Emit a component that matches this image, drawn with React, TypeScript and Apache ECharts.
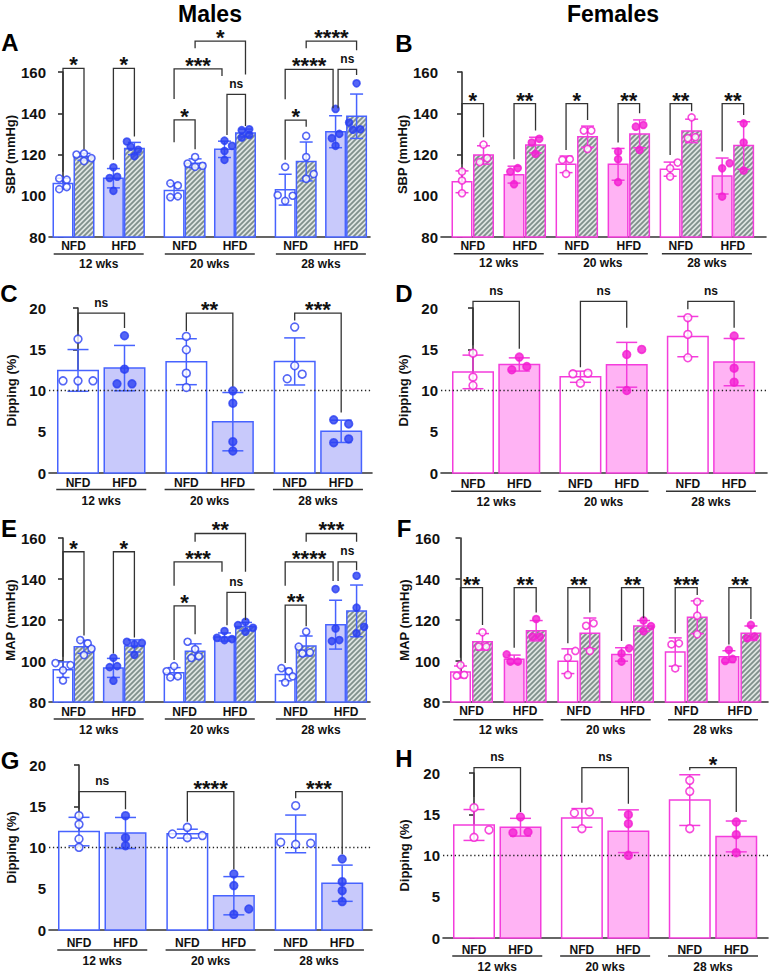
import React, { useEffect, useRef } from "react";
import * as echarts from "echarts";

const FONT = "'Liberation Sans', Arial, Helvetica, sans-serif";

// ---------------- data ----------------
const columnTitles = ["Males", "Females"];
const panelLetters = ["A", "B", "C", "D", "E", "F", "G", "H"];
const timepoints = ["12 wks", "20 wks", "28 wks"];
const diets = ["NFD", "HFD"];
const yNames = ["SBP (mmHg)", "SBP (mmHg)", "Dipping (%)", "Dipping (%)", "MAP (mmHg)", "MAP (mmHg)", "Dipping (%)", "Dipping (%)"];

// 4-bar panels: per timepoint NFD, NFD (hatched), HFD, HFD (hatched)
const sbpMales: number[][] = [
  [107.8, 108.4, 103.2, 104.2], [120.5, 120.0, 118.2, 116.8], [113.8, 109.2, 108.6, 102.4], [126.3, 123.8, 122.3, 119.2],
  [105.0, 106.0, 99.7, 99.3], [118.8, 115.6, 114.5, 114.0], [124.2, 126.7, 121.7, 117.4], [132.2, 131.8, 129.5, 128.2],
  [114.0, 100.3, 100.0, 97.5], [129.0, 118.8, 110.5, 108.2], [142.1, 130.0, 127.9, 124.2], [154.5, 135.5, 132.2, 132.0],
];
const sbpFemales: number[][] = [
  [111.7, 107.4, 101.2], [124.8, 116.3, 118.2], [113.4, 111.7, 105.6], [127.6, 125.8, 120.3],
  [117.7, 117.4, 110.6], [131.6, 131.6, 122.7], [121.4, 117.7, 106.6], [134.3, 133.5, 122.2],
  [116.1, 113.3, 109.3], [138.0, 127.9, 128.4], [115.8, 113.3, 99.6], [135.1, 125.8, 112.2],
];
const mapMales: number[][] = [
  [99.0, 98.0, 95.5, 90.5], [110.2, 108.6, 106.0, 102.9], [101.6, 97.5, 97.0, 90.4], [109.4, 108.8, 108.2, 103.0],
  [97.5, 95.0, 92.5, 92.0], [109.4, 105.8, 102.3, 101.5], [110.2, 110.7, 114.6, 111.3], [119.1, 117.5, 116.2, 114.3],
  [96.5, 95.0, 92.5, 89.5], [114.3, 107.0, 104.2, 103.7], [135.1, 115.9, 109.7, 110.2], [141.6, 126.0, 116.7, 113.5],
];
const mapFemales: number[][] = [
  [98.0, 93.2, 92.8], [114.0, 107.0, 107.0], [103.2, 99.7, 99.7], [120.5, 111.9, 111.9],
  [104.9, 101.6, 93.2], [118.4, 117.2, 104.9], [106.2, 103.7, 99.7], [119.8, 117.0, 114.5],
  [108.6, 108.1, 96.4], [128.9, 122.1, 113.0], [105.4, 100.0, 101.0], [117.6, 111.1, 111.9],
];
// 2-bar panels: per timepoint NFD, HFD
const dipMalesSBP: number[][] = [
  [16.23, 11.17, 11.17, 11.17], [16.64, 12.59, 10.81, 10.81],
  [16.56, 14.94, 12.10, 10.36], [9.96, 8.46, 3.80, 2.67],
  [17.69, 13.00, 11.42, 11.98], [5.95, 6.44, 3.68, 4.13],
];
const dipFemalesSBP: number[][] = [
  [14.53, 11.62, 10.61], [14.05, 12.51, 12.91],
  [12.10, 12.02, 10.89], [14.98, 14.37, 10.00],
  [18.83, 16.80, 13.97], [16.60, 12.71, 11.01],
];
const dipMalesMAP: number[][] = [
  [13.86, 12.81, 11.03, 10.02], [13.86, 11.19, 10.22],
  [11.19, 11.64, 12.44, 11.44], [6.79, 5.38, 2.55, 1.90],
  [15.07, 10.38, 10.63, 10.51], [8.61, 5.86, 4.77, 3.44],
];
const dipFemalesMAP: number[][] = [
  [15.8, 13.1, 12.2], [14.67, 12.77, 12.85],
  [15.27, 15.15, 13.25], [14.95, 13.86, 10.02],
  [19.11, 17.78, 13.25], [14.06, 12.53, 10.34],
];

// brackets: [label, leftBar, rightBar, lineValue, leftLegEnd, rightLegEnd, leftNudge, rightNudge]
type Bracket = [string, number, number, number, number, number, number, number];
const bracketsA: Bracket[] = [
  ["*", 0, 1, 161.8, 111.6, 122.6, 0, 0], ["*", 2, 3, 161.8, 117.4, 128.7, 0, 0],
  ["*", 4, 5, 136.8, 126.0, 122.5, 0, 0], ["ns", 6, 7, 149.2, 129.5, 133.8, 1, 0],
  ["***", 4, 6, 161.5, 146.9, 158.1, 0, -1], ["*", 5, 7, 175.0, 171.5, 158.8, 0, 0],
  ["*", 8, 9, 136.7, 117.4, 133.5, 0, 0], ["****", 8, 10, 161.3, 146.8, 142.4, 0, -1],
  ["ns", 10, 11, 161.3, 142.4, 158.5, 1, 0], ["****", 9, 11, 175.0, 171.5, 170.6, 0, 0],
];
const bracketsB: Bracket[] = [
  ["*", 0, 1, 144.7, 115.3, 128.4, 0, 0], ["**", 2, 3, 144.7, 117.7, 131.6, 0, 0],
  ["*", 4, 5, 144.7, 122.2, 136.7, 0, 0], ["**", 6, 7, 144.7, 125.8, 140.0, 0, 0],
  ["**", 8, 9, 144.7, 119.8, 141.0, 0, 0], ["**", 10, 11, 144.7, 121.4, 139.2, 0, 0],
];
const bracketsC: Bracket[] = [
  ["ns", 0, 1, 19.39, 17.17, 17.57, 0, 0], ["**", 2, 3, 19.39, 17.17, 10.49, 0, 0], ["***", 4, 5, 19.39, 18.5, 7.33, 0, 0],
];
const bracketsD: Bracket[] = [
  ["ns", 0, 1, 20.81, 15.47, 15.06, 0, 0], ["ns", 2, 3, 20.81, 12.83, 17.6, 0, 0], ["ns", 4, 5, 20.81, 19.84, 17.6, 0, 0],
];
const bracketsE: Bracket[] = [
  ["*", 0, 1, 153.3, 102.1, 112.5, 0, 0], ["*", 2, 3, 153.3, 103.7, 111.5, 0, 0],
  ["*", 4, 5, 126.9, 100.5, 113.0, 0, 0], ["ns", 6, 7, 133.5, 117.5, 120.0, 1, 0],
  ["***", 4, 6, 148.4, 136.7, 143.5, 0, -1], ["**", 5, 7, 162.2, 158.2, 143.5, 0, 0],
  ["**", 8, 9, 127.3, 99.0, 117.0, 0, 0], ["****", 8, 10, 148.4, 136.7, 139.0, 0, -1],
  ["ns", 10, 11, 148.4, 139.0, 144.3, 1, 0], ["***", 9, 11, 162.2, 158.2, 158.2, 0, 0],
];
const bracketsF: Bracket[] = [
  ["**", 0, 1, 135.8, 101.6, 117.6, 0, 0], ["**", 2, 3, 135.8, 106.5, 123.7, 0, 0],
  ["**", 4, 5, 135.8, 108.6, 123.7, 0, 0], ["**", 6, 7, 135.8, 109.8, 120.8, 0, 0],
  ["***", 8, 9, 135.8, 113.5, 132.2, 0, 0], ["**", 10, 11, 135.8, 108.1, 120.5, 0, 0],
];
const bracketsG: Bracket[] = [
  ["ns", 0, 1, 16.77, 14.63, 14.63, 0, 0], ["****", 2, 3, 16.77, 13.13, 7.35, 0, 0], ["***", 4, 5, 16.77, 15.96, 9.17, 0, 0],
];
const bracketsH: Bracket[] = [
  ["ns", 0, 1, 20.65, 17.09, 15.27, 0, 0], ["ns", 2, 3, 20.65, 16.4, 16.28, 0, 0], ["*", 4, 5, 20.65, 20.32, 15.27, 0, 0],
];
const dippingThreshold = 10;

// ---------------- layout / style ----------------
const BLUE = { line: "#4763ff", dot: "#2b40f2", fill: "#c8c9fb" };
const PINK = { line: "#f43ddc", dot: "#f41ed2", fill: "#ffb3f4" };
const AX = "#333333";
const TXT = "#111111";

interface PanelCfg {
  values: number[][]; brackets: Bracket[]; quad: boolean; male: boolean;
  yMin: number; yMax: number; yStep: number;
  left: number; top: number; width: number; height: number;
  unit: number; first: number; T: number; D: number;
  labelDy: [number, number, number]; nameGap: number;
  letterX: number; letterY: number;
}

const panels: PanelCfg[] = [
  { values: sbpMales, brackets: bracketsA, quad: true, male: true, yMin: 80, yMax: 160, yStep: 20, left: 49, top: 72, width: 321, height: 165, unit: 21, first: 63, T: 5.29, D: 2.4, labelDy: [9, 17, 26.5], nameGap: 30, letterX: 10, letterY: 42 },
  { values: sbpFemales, brackets: bracketsB, quad: true, male: false, yMin: 80, yMax: 160, yStep: 20, left: 441, top: 72, width: 325, height: 165, unit: 21.5, first: 462, T: 4.84, D: 2.42, labelDy: [8.5, 16.7, 26], nameGap: 30, letterX: 404, letterY: 43 },
  { values: dipMalesSBP, brackets: bracketsC, quad: false, male: true, yMin: 0, yMax: 20, yStep: 5, left: 49, top: 308, width: 323, height: 165, unit: 46.5, first: 78, T: 2.33, D: 1, labelDy: [9.5, 16.5, 28], nameGap: 31, letterX: 9, letterY: 293 },
  { values: dipFemalesSBP, brackets: bracketsD, quad: false, male: false, yMin: 0, yMax: 20, yStep: 5, left: 441, top: 308, width: 326, height: 165, unit: 46.3, first: 473, T: 2.32, D: 1, labelDy: [10.6, 18.3, 29], nameGap: 31, letterX: 404, letterY: 293 },
  { values: mapMales, brackets: bracketsE, quad: true, male: true, yMin: 80, yMax: 160, yStep: 20, left: 49, top: 538, width: 321, height: 164, unit: 21, first: 63, T: 5.29, D: 2.4, labelDy: [9.7, 17, 28], nameGap: 30, letterX: 9, letterY: 528 },
  { values: mapFemales, brackets: bracketsF, quad: true, male: false, yMin: 80, yMax: 160, yStep: 20, left: 443, top: 538, width: 325, height: 164, unit: 22, first: 460.5, T: 4.88, D: 2.44, labelDy: [8.5, 17.7, 27.7], nameGap: 31, letterX: 404, letterY: 528 },
  { values: dipMalesMAP, brackets: bracketsG, quad: false, male: true, yMin: 0, yMax: 20, yStep: 5, left: 49, top: 765, width: 323, height: 165, unit: 46.5, first: 79, T: 2.33, D: 1, labelDy: [13, 20, 31], nameGap: 31, letterX: 10, letterY: 760 },
  { values: dipFemalesMAP, brackets: bracketsH, quad: false, male: false, yMin: 0, yMax: 20, yStep: 5, left: 443, top: 773, width: 325, height: 165, unit: 46.5, first: 474, T: 2.32, D: 1, labelDy: [11.7, 18, 29], nameGap: 32, letterX: 404, letterY: 758 },
];

function mean(a: number[]) { return a.reduce((s, v) => s + v, 0) / a.length; }
function sd(a: number[]) {
  const m = mean(a);
  return Math.sqrt(a.reduce((s, v) => s + (v - m) * (v - m), 0) / (a.length - 1));
}

// simple beeswarm: horizontal pixel offsets for points of one column
function swarm(vals: number[], yPx: number, d: number, s: number): number[] {
  const order = vals.map((_, i) => i).sort((a, b) => vals[a] - vals[b]);
  const pts: { x: number; y: number; i: number }[] = [];
  const out = new Array(vals.length).fill(0);
  let sum = 0;
  for (const i of order) {
    const y = vals[i] * yPx;
    const sg = sum > 0 ? -1 : 1;
    const cands = [0, sg * s, -sg * s, 2 * sg * s, -2 * sg * s, 3 * sg * s, -3 * sg * s];
    let chosen = cands[cands.length - 1];
    for (const c of cands) {
      if (pts.every((p) => Math.hypot(p.x - c, p.y - y) >= d)) { chosen = c; break; }
    }
    out[i] = chosen; sum += chosen; pts.push({ x: chosen, y, i });
  }
  const rows: number[][] = [];
  let cur: typeof pts = [];
  for (const p of pts) {
    if (cur.length && p.y - cur[cur.length - 1].y > d * 0.6) { rows.push(cur.map((q) => q.i)); cur = []; }
    cur.push(p);
  }
  if (cur.length) rows.push(cur.map((q) => q.i));
  for (const r of rows) {
    if (r.length > 1) {
      const m = r.reduce((a, i) => a + out[i], 0) / r.length;
      r.forEach((i) => (out[i] -= m));
    }
  }
  return out;
}

function makeHatch() {
  const n = 5;
  const c = document.createElement("canvas");
  c.width = n; c.height = n;
  const g = c.getContext("2d")!;
  g.fillStyle = "#dfe5e2"; g.fillRect(0, 0, n, n);
  g.strokeStyle = "#7f8f8b"; g.lineWidth = 1.8;
  g.beginPath();
  g.moveTo(0, n); g.lineTo(n, 0);
  g.moveTo(-n, n); g.lineTo(n, -n);
  g.moveTo(0, 2 * n); g.lineTo(2 * n, 0);
  g.stroke();
  return { image: c, repeat: "repeat", imageWidth: n, imageHeight: n };
}

function buildOption() {
  const hatch = makeHatch();
  const grid: any[] = [], xAxis: any[] = [], yAxis: any[] = [], series: any[] = [];

  panels.forEach((p, gi) => {
    const pal = p.male ? BLUE : PINK;
    const xMin = (p.left - p.first) / p.unit;
    const xMax = xMin + p.width / p.unit;
    const yPx = p.height / (p.yMax - p.yMin);
    const barPos = (i: number) => p.quad
      ? Math.floor(i / 4) * p.T + (Math.floor(i / 2) % 2) * p.D + (i % 2)
      : Math.floor(i / 2) * p.T + (i % 2) * p.D;
    const isHFD = (i: number) => (p.quad ? Math.floor(i / 2) % 2 === 1 : i % 2 === 1);
    const isHatched = (i: number) => p.quad && i % 2 === 1;
    const pairCenter = (t: number, d: number) => (p.quad ? t * p.T + d * p.D + 0.5 : t * p.T + d * p.D);
    const tCenter = (t: number) => (p.quad ? t * p.T + p.D / 2 + 0.5 : t * p.T + p.D / 2);
    const barW = (p.quad ? 19.5 : 40.5) / p.unit;
    const capHalf = p.quad ? 6.5 : 10.5;
    const symSize = p.quad ? 7 : 7.8;

    grid.push({ left: p.left, top: p.top, width: p.width, height: p.height, containLabel: false });
    xAxis.push({
      gridIndex: gi, type: "value", min: xMin, max: xMax,
      axisLine: { show: true, onZero: false, lineStyle: { color: AX, width: 1.6 } },
      axisTick: { show: false }, axisLabel: { show: false }, splitLine: { show: false },
    });
    yAxis.push({
      gridIndex: gi, type: "value", min: p.yMin, max: p.yMax, interval: p.yStep,
      name: yNames[gi], nameLocation: "middle", nameGap: p.nameGap, nameRotate: 90,
      nameTextStyle: { fontFamily: FONT, fontWeight: "bold", fontSize: 13, color: TXT },
      axisLine: { show: true, lineStyle: { color: AX, width: 1.6 } },
      axisTick: { show: true, length: 5, lineStyle: { color: AX, width: 1.6 } },
      axisLabel: { fontFamily: FONT, fontWeight: "bold", fontSize: 15, color: TXT, margin: 3 },
      splitLine: { show: false },
    });

    // bars + SD error bars
    series.push({
      type: "custom", xAxisIndex: gi, yAxisIndex: gi, z: 2, clip: false, silent: true,
      data: p.values.map((v, i) => [barPos(i), mean(v), sd(v), i]),
      renderItem: (_params: any, api: any) => {
        const x = api.value(0), m = api.value(1), s = api.value(2), i = api.value(3);
        const tl = api.coord([x - barW / 2, m]);
        const br = api.coord([x + barW / 2, p.yMin]);
        const hi = api.coord([x, m + s]);
        const lo = api.coord([x, m - s]);
        const fill = isHatched(i) ? hatch : isHFD(i) ? pal.fill : "#ffffff";
        const ls = { stroke: pal.line, lineWidth: 1.5 };
        return {
          type: "group",
          children: [
            { type: "rect", shape: { x: tl[0], y: tl[1], width: br[0] - tl[0], height: br[1] - tl[1] }, style: { fill, stroke: pal.line, lineWidth: 1.5 } },
            { type: "line", shape: { x1: hi[0], y1: hi[1], x2: lo[0], y2: lo[1] }, style: ls },
            { type: "line", shape: { x1: hi[0] - capHalf, y1: hi[1], x2: hi[0] + capHalf, y2: hi[1] }, style: ls },
            { type: "line", shape: { x1: lo[0] - capHalf, y1: lo[1], x2: lo[0] + capHalf, y2: lo[1] }, style: ls },
          ],
        };
      },
    });

    // dipping threshold
    if (p.yMin === 0) {
      series.push({
        type: "custom", xAxisIndex: gi, yAxisIndex: gi, z: 3, clip: false, silent: true,
        data: [[dippingThreshold]],
        renderItem: (_params: any, api: any) => {
          const a = api.coord([xMin, api.value(0)]);
          const b = api.coord([xMax, api.value(0)]);
          return { type: "line", shape: { x1: a[0], y1: a[1], x2: b[0], y2: b[1] }, style: { stroke: "#222", lineWidth: 1.3, lineDash: [1.3, 2.6] } };
        },
      });
    }

    // individual points
    const pts: any[] = [];
    p.values.forEach((vals, i) => {
      const offs = p.quad ? swarm(vals, yPx, 7.5, 7.5) : swarm(vals, yPx, 8, 15);
      vals.forEach((v, j) => {
        pts.push({
          value: [barPos(i) + offs[j] / p.unit, v],
          itemStyle: { color: isHFD(i) ? pal.dot : "#ffffff", borderColor: pal.dot, borderWidth: 1.6 },
        });
      });
    });
    series.push({
      type: "scatter", xAxisIndex: gi, yAxisIndex: gi, z: 4, clip: false, silent: true,
      symbol: "circle", symbolSize: symSize, data: pts,
    });

    // significance brackets
    const nudge = 2.5 / p.unit;
    series.push({
      type: "custom", xAxisIndex: gi, yAxisIndex: gi, z: 5, clip: false, silent: true,
      data: p.brackets.map((b, j) => [barPos(b[1]) + b[6] * nudge, barPos(b[2]) + b[7] * nudge, b[3], b[4], b[5], j]),
      renderItem: (_params: any, api: any) => {
        const x1 = api.value(0), x2 = api.value(1), ly = api.value(2);
        const a = api.coord([x1, api.value(3)]);
        const b = api.coord([x1, ly]);
        const c = api.coord([x2, ly]);
        const d = api.coord([x2, api.value(4)]);
        const label = p.brackets[api.value(5)][0];
        const star = label.indexOf("*") >= 0;
        return {
          type: "group",
          children: [
            { type: "polyline", shape: { points: [a, b, c, d] }, style: { stroke: AX, lineWidth: 1.3, fill: "none" } },
            {
              type: "text", x: (b[0] + c[0]) / 2, y: b[1] + (star ? -3.5 : -10.5),
              style: { text: label, fill: TXT, fontFamily: FONT, fontWeight: "bold", fontSize: star ? 22 : 12, align: "center", verticalAlign: "middle" },
            },
          ],
        };
      },
    });

    // group labels below the axis
    series.push({
      type: "custom", xAxisIndex: gi, yAxisIndex: gi, z: 5, clip: false, silent: true,
      data: timepoints.map((_, t) => [t]),
      renderItem: (_params: any, api: any) => {
        const t = api.value(0);
        const base = api.coord([0, p.yMin])[1];
        const tc = api.coord([tCenter(t), p.yMin])[0];
        const txt = (text: string, x: number, y: number) => ({
          type: "text", x, y,
          style: { text, fill: TXT, fontFamily: FONT, fontWeight: "bold", fontSize: 12, align: "center", verticalAlign: "middle" },
        });
        const children: any[] = diets.map((dn, d) => txt(dn, api.coord([pairCenter(t, d), p.yMin])[0], base + p.labelDy[0]));
        children.push({ type: "line", shape: { x1: tc - 45, y1: base + p.labelDy[1], x2: tc + 45, y2: base + p.labelDy[1] }, style: { stroke: AX, lineWidth: 1.5 } });
        children.push(txt(timepoints[t], tc, base + p.labelDy[2]));
        return { type: "group", children };
      },
    });
  });

  const graphic: any[] = [];
  const titleStyle = (text: string, size: number) => ({
    text, fill: "#000", fontFamily: FONT, fontWeight: "bold", fontSize: size,
    align: "center", verticalAlign: "middle", textAlign: "center", textVerticalAlign: "middle",
  });
  graphic.push({ type: "text", x: 210, y: 14, style: titleStyle(columnTitles[0], 23) });
  graphic.push({ type: "text", x: 613, y: 14, style: titleStyle(columnTitles[1], 23) });
  panels.forEach((p, i) => {
    graphic.push({ type: "text", x: p.letterX, y: p.letterY, style: titleStyle(panelLetters[i], 24) });
  });

  return { animation: false, backgroundColor: "#ffffff", grid, xAxis, yAxis, series, graphic };
}

export default function App() {
  const ref = useRef<HTMLDivElement>(null);
  useEffect(() => {
    if (!ref.current) return;
    const chart = echarts.init(ref.current, undefined, { renderer: "svg" });
    chart.setOption(buildOption() as any);
    return () => chart.dispose();
  }, []);
  return (
    <div
      ref={ref}
      style={{ position: "absolute", left: 0, top: 0, width: 770, height: 976, background: "#fff" }}
    />
  );
}
